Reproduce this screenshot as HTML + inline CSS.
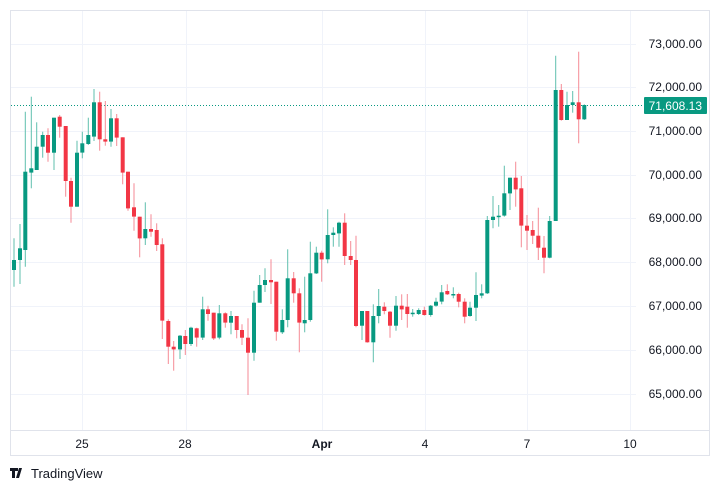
<!DOCTYPE html>
<html><head><meta charset="utf-8"><style>
html,body{margin:0;padding:0;background:#fff;width:720px;height:490px;overflow:hidden}
svg{display:block;font-family:"Liberation Sans",sans-serif}
</style></head><body>
<svg id="s" width="720" height="490" xmlns="http://www.w3.org/2000/svg">
<rect x="10.5" y="10.5" width="699" height="445" fill="#fff" stroke="#e0e3eb"/>
<g stroke="#f0f3fa" stroke-width="1">
<line x1="11" x2="636" y1="44.5" y2="44.5"/><line x1="11" x2="636" y1="87.5" y2="87.5"/>
<line x1="11" x2="636" y1="131.5" y2="131.5"/><line x1="11" x2="636" y1="175.5" y2="175.5"/>
<line x1="11" x2="636" y1="218.5" y2="218.5"/><line x1="11" x2="636" y1="262.5" y2="262.5"/>
<line x1="11" x2="636" y1="306.5" y2="306.5"/><line x1="11" x2="636" y1="350.5" y2="350.5"/>
<line x1="11" x2="636" y1="394.5" y2="394.5"/>
<line x1="82.5" x2="82.5" y1="11" y2="430"/><line x1="186.5" x2="186.5" y1="11" y2="430"/>
<line x1="322.5" x2="322.5" y1="11" y2="430"/><line x1="425.5" x2="425.5" y1="11" y2="430"/>
<line x1="527.5" x2="527.5" y1="11" y2="430"/><line x1="630.5" x2="630.5" y1="11" y2="430"/>
</g>
<line x1="11" x2="709" y1="430.5" y2="430.5" stroke="#e0e3eb"/>
<g font-size="12" fill="#131722" text-anchor="end">
<text x="702" y="48">73,000.00</text><text x="702" y="91">72,000.00</text>
<text x="702" y="135">71,000.00</text><text x="702" y="179">70,000.00</text>
<text x="702" y="222">69,000.00</text><text x="702" y="266">68,000.00</text>
<text x="702" y="310">67,000.00</text><text x="702" y="354">66,000.00</text>
<text x="702" y="398">65,000.00</text>
</g>
<g font-size="12" fill="#131722" text-anchor="middle">
<text x="82" y="448">25</text><text x="185" y="448">28</text>
<text x="322" y="448" font-weight="bold">Apr</text><text x="425" y="448">4</text>
<text x="527" y="448">7</text><text x="630" y="448">10</text>
</g>
<line x1="11" x2="644" y1="105.5" y2="105.5" stroke="#089981" stroke-dasharray="1,2"/>
<rect x="644" y="97" width="63" height="17" rx="1" fill="#089981"/>
<text x="702" y="110" font-size="12" fill="#fff" text-anchor="end">71,608.13</text>
<g id="c"></g>
<g transform="translate(10,466)">
<path d="M0 2h8v3h-3v7h-3v-7h-2z M9 2h3l-3 10h-3z" fill="#131722"/>
<circle cx="10" cy="4" r="0"/>
</g>
<text x="31" y="478" font-size="13" fill="#131722">TradingView</text>
</svg>
<script>
var A=[[42,540,570,475,620,1],[60,505,540,432,612,1],[76,275,510,95,560,1],[94,265,278,50,325,1],[110,200,270,127,270,1],[128,165,200,155,233,1],[144,165,218,145,245,0],[162,113,218,113,270,1],[179,110,140,105,173,0],[197,138,303,138,350,0],[213,303,380,293,428,0],[231,218,380,182,380,1],[247,190,218,155,235,1],[265,165,192,113,195,1],[282,67,170,27,183,1],[299,67,178,35,212,0],[316,178,185,63,197,0],[333,115,185,87,200,1],[350,115,173,102,198,0],[368,172,278,172,313,0],[384,275,385,275,392,0],[402,382,410,310,452,0],[419,410,475,410,532,0],[436,447,475,367,495,1],[453,447,455,403,470,0],[470,450,495,430,513,0],[487,493,722,475,777,0],[505,723,800,718,852,0],[521,800,808,783,872,0],[540,767,808,765,837,1],[556,768,792,750,825,0],[573,743,792,740,798,1],[590,745,773,743,800,0],[608,688,773,650,780,1],[624,688,702,677,722,0],[641,698,775,698,780,0],[658,700,773,675,778,1],[676,700,728,697,743,0],[693,708,728,693,763,1],[710,708,750,708,775,0],[726,750,773,733,795,0],[744,773,818,715,945,0],[762,668,818,632,842,1],[779,615,668,585,668,1],[795,600,615,565,636,1],[813,600,607,538,672,0],[829,605,755,605,782,0],[847,720,757,688,762,1],[863,595,720,508,742,1],[881,595,640,576,668,0],[898,640,728,625,817,0],[914,720,730,590,757,1],[931,580,720,485,725,1],[949,518,580,500,582,1],[965,518,538,512,605,0],[983,465,538,388,550,1]];
var B=[[10,578,585,562,620,1],[27,548,580,545,620,1],[44,548,648,520,675,0],[62,648,660,603,675,0],[78,660,858,587,862,0],[96,813,857,813,900,1],[112,813,907,813,908,0],[130,828,907,793,967,1],[146,798,828,747,850,1],[163,800,813,787,823,0],[180,815,857,813,893,0],[198,797,857,768,872,1],[215,797,808,763,840,0],[232,800,822,762,863,0],[248,818,822,807,830,1],[266,810,822,805,825,1],[283,810,825,800,827,0],[302,797,825,795,830,1],[318,785,797,773,800,1],[335,757,785,735,793,1],[352,753,763,733,765,0],[370,762,765,742,775,1],[386,762,785,758,802,0],[404,785,830,775,850,0],[420,803,828,785,830,1],[438,765,803,697,843,1],[455,760,767,733,775,1],[472,540,760,528,762,1],[489,530,540,468,565,1],[506,527,530,495,560,1],[523,460,527,377,530,1],[540,413,460,413,510,1],[557,413,448,365,500,0],[574,445,557,408,622,0],[591,557,572,525,630,0],[608,570,587,543,612,0],[625,587,623,503,660,0],[642,623,653,588,700,0],[659,543,653,528,655,1],[677,150,543,47,543,1],[694,150,240,132,242,0],[711,195,240,155,240,1],[728,187,195,153,218,1],[746,187,238,35,310,0],[763,195,238,193,240,1]];
var h='';
function add(d,ox,oy){d.forEach(function(c){var x=ox+c[0]/3,bt=oy+c[1]/3,bb=oy+c[2]/3,wt=oy+c[3]/3,wb=oy+c[4]/3;
var col=c[5]?'#089981':'#f23645',wc=c[5]?'#5fbfae':'#f58a94';
h+='<line x1="'+x.toFixed(1)+'" x2="'+x.toFixed(1)+'" y1="'+wt.toFixed(1)+'" y2="'+wb.toFixed(1)+'" stroke="'+wc+'" stroke-width="1"/>';
h+='<rect x="'+(x-2).toFixed(1)+'" y="'+bt.toFixed(1)+'" width="4" height="'+Math.max(1.5,bb-bt).toFixed(1)+'" fill="'+col+'"/>';});}
add(A,0,80);add(B,330,40);
document.getElementById('c').innerHTML=h;
</script>
</body></html>
